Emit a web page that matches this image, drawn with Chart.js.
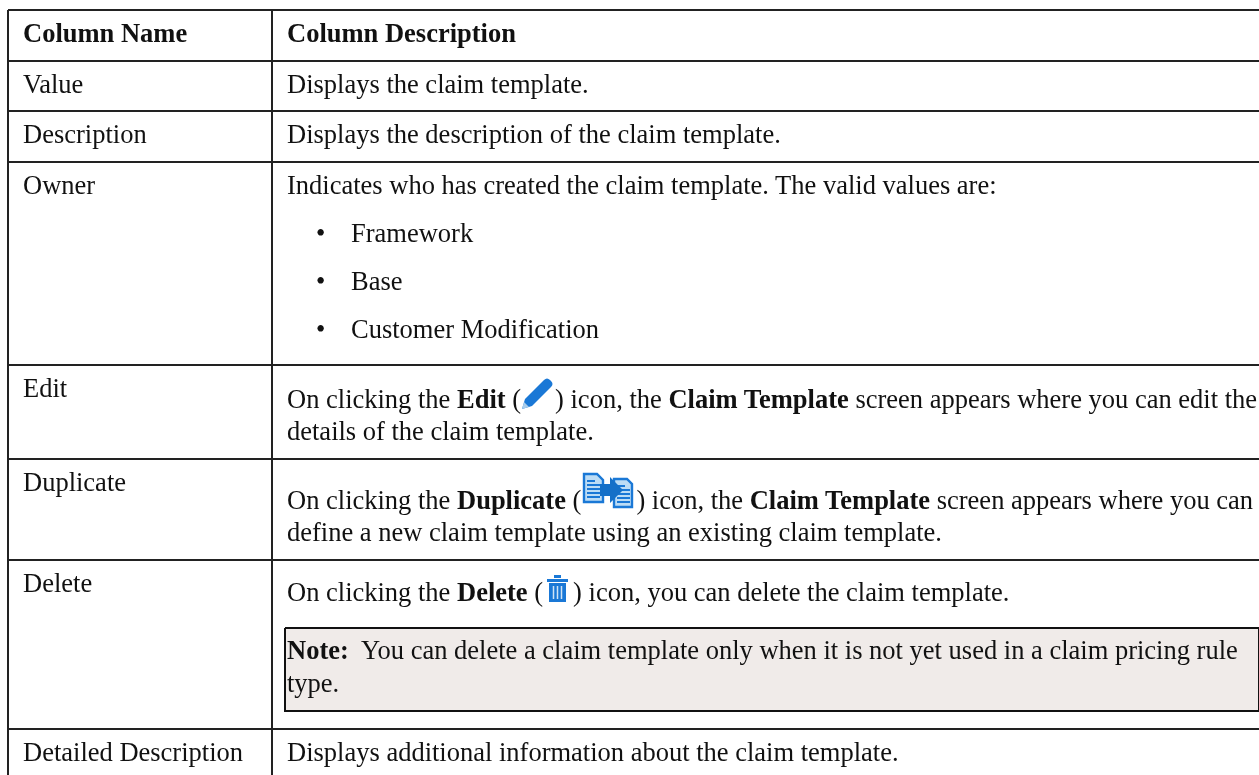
<!DOCTYPE html>
<html>
<head>
<meta charset="utf-8">
<script src="https://cdn.jsdelivr.net/npm/chart.js@4/dist/chart.umd.min.js"></script>
<style>
html,body{margin:0;padding:0;background:#fff;overflow:hidden}
#wrap{position:relative;width:1259px;height:775px;overflow:hidden}
#c{position:absolute;left:0;top:0}
#txt{position:absolute;left:0;top:0;width:1259px;height:775px;font-family:"Liberation Serif",serif;font-size:26.5px;line-height:30px;color:#111}
.l{position:absolute;white-space:pre}
.ic{display:inline-block;position:relative;height:0}
.ic svg{position:absolute;overflow:visible}
</style>
</head>
<body>
<div id="wrap"><canvas id="c" width="1259" height="775"></canvas><div id="txt"></div></div>
<script>
// Table rules (y downward, in page units)
const horizontalRules = [10, 61, 111, 162, 365, 459, 560, 729];
const verticalRules = [8, 272];
const noteBoxX = [285, 1259];
const noteBoxY = [628, 711];
// Text rows: [x, baseline, runs]; **…** marks bold, {name} marks an icon
const textRows = [
  [23, 42, "**Column Name**"],
  [287, 42, "**Column Description**"],
  [23, 93, "Value"],
  [287, 93, "Displays the claim template."],
  [23, 143, "Description"],
  [287, 143, "Displays the description of the claim template."],
  [23, 194, "Owner"],
  [287, 194, "Indicates who has created the claim template. The valid values are:"],
  [316, 242, "•"], [351, 242, "Framework"],
  [316, 290, "•"], [351, 290, "Base"],
  [316, 338, "•"], [351, 338, "Customer Modification"],
  [23, 397, "Edit"],
  [287, 408, "On clicking the **Edit** ({pencil}) icon, the **Claim Template** screen appears where you can edit the"],
  [287, 440, "details of the claim template."],
  [23, 491, "Duplicate"],
  [287, 509, "On clicking the **Duplicate** ({dup}) icon, the **Claim Template** screen appears where you can"],
  [287, 541, "define a new claim template using an existing claim template."],
  [23, 592, "Delete"],
  [287, 601, "On clicking the **Delete** ({trash}) icon, you can delete the claim template."],
  [287, 659, "**Note:**  You can delete a claim template only when it is not yet used in a claim pricing rule"],
  [287, 692, "type."],
  [23, 761, "Detailed Description"],
  [287, 761, "Displays additional information about the claim template."]
];
const icons = {
  pencil: [34, '<svg width="31" height="31" style="top:-30px;left:1px" viewBox="0 0 31 31"><path d="M0 31l3-10L22 2c2-2 4-2 6 0l1 1c2 2 2 4 0 6L10 28z" fill="#1a78d6"/><path d="M0 31l2-7 5 5z" fill="#a9cdec"/></svg>'],
  dup: [55, '<svg width="50" height="35" style="top:-36px;left:2px" viewBox="0 0 50 35"><g fill="#bcdcf5" stroke="#1a78d6" stroke-width="2.400"><path d="M1 1h13l6 6v22H1z"/><path d="M31 6h13l5 5v23H31z"/></g><path d="M4 8h8M4 12h13M4 16h13M4 20h13M4 24h13M34 13h8M34 17h13M34 21h13M34 25h13M34 29h13" stroke="#1a78d6" stroke-width="2"/><path d="M17 11h10V4l13 13-13 13v-7H17z" fill="#1570c8"/></svg>'],
  trash: [30, '<svg width="21" height="27" style="top:-26px;left:4px" viewBox="0 0 21 27"><path d="M0 4h21v3H0zM7 0h7v3H7z" fill="#1a78d6"/><path d="M2 8h17v19H2z" fill="#1a78d6"/><path d="M6.500 11v13M10.500 11v13M14.500 11v13" stroke="#cfe3f5" stroke-width="1.500"/></svg>']
};

const ruleColor = '#222';
const datasets = [];
datasets.push({
  data: [
    {x: noteBoxX[0], y: noteBoxY[0]}, {x: noteBoxX[1], y: noteBoxY[0]},
    {x: noteBoxX[1], y: noteBoxY[1]}, {x: noteBoxX[0], y: noteBoxY[1]}, {x: noteBoxX[0], y: noteBoxY[0]}
  ],
  showLine: true, fill: 'shape', backgroundColor: '#f0ebe9', borderColor: '#111', borderWidth: 2, pointRadius: 0, tension: 0
});
horizontalRules.forEach(y => datasets.push({
  data: [{x: verticalRules[0], y}, {x: 1259, y}],
  showLine: true, borderColor: ruleColor, borderWidth: 2, pointRadius: 0, fill: false
}));
verticalRules.forEach(x => datasets.push({
  data: [{x, y: horizontalRules[0]}, {x, y: 775}],
  showLine: true, borderColor: ruleColor, borderWidth: 2, pointRadius: 0, fill: false
}));

new Chart(document.getElementById('c'), {
  type: 'scatter',
  data: {datasets},
  options: {
    responsive: false, animation: false,
    layout: {padding: 0},
    plugins: {legend: {display: false}, tooltip: {enabled: false}},
    scales: {
      x: {type: 'linear', min: 0, max: 1259, display: false},
      y: {type: 'linear', min: 0, max: 775, reverse: true, display: false}
    }
  }
});

const box = document.getElementById('txt');
textRows.forEach(([x, base, s]) => {
  const d = document.createElement('div');
  d.className = 'l';
  d.style.left = x + 'px';
  d.style.top = (base - 24) + 'px';
  d.innerHTML = s.replace(/\*\*(.+?)\*\*/g, '<b>$1</b>').replace(/\{(\w+)\}/g, (m, n) =>
    '<span class="ic" style="width:' + icons[n][0] + 'px">' + icons[n][1] + '</span>');
  box.appendChild(d);
});
</script>
</body>
</html>
